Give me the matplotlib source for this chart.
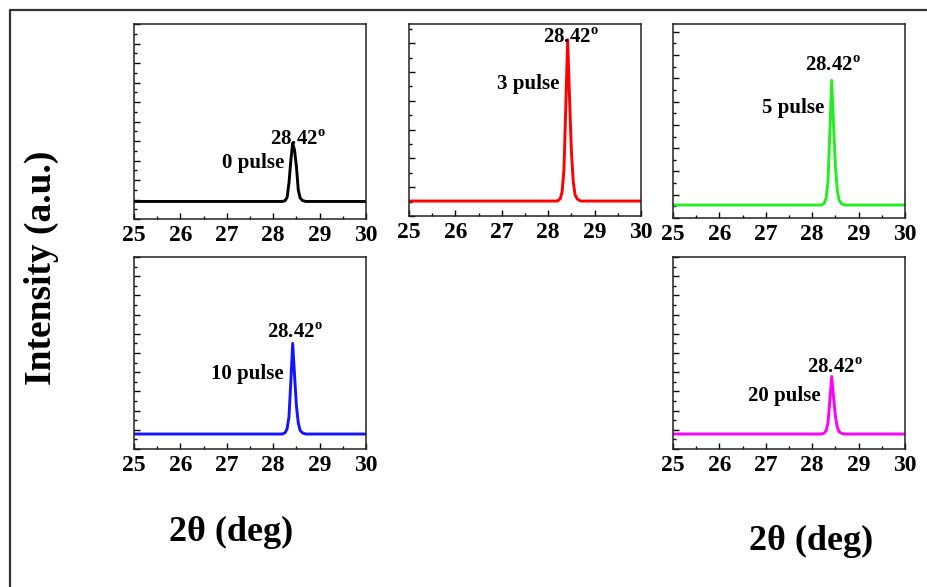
import matplotlib
matplotlib.use("Agg")
import matplotlib.pyplot as plt
from matplotlib.ticker import MultipleLocator, AutoMinorLocator
from matplotlib.lines import Line2D

plt.rcParams["font.family"] = ["Liberation Serif", "DejaVu Serif"]
plt.rcParams["font.weight"] = "bold"
plt.rcParams["mathtext.fontset"] = "custom"
plt.rcParams["mathtext.rm"] = "Liberation Serif"
plt.rcParams["mathtext.bf"] = "Liberation Serif:bold"

# 2-theta sample positions (deg) shared by every pattern
two_theta = [25.0, 28.20, 28.26, 28.30, 28.34, 28.38, 28.42, 28.46,
             28.50, 28.54, 28.58, 28.63, 28.70, 30.0]

# Normalised intensity (a.u.) for each pulse count
int_0 = [0.090, 0.090, 0.095, 0.112, 0.185, 0.300, 0.390, 0.352,
         0.270, 0.150, 0.108, 0.095, 0.090, 0.090]
int_3 = [0.078, 0.078, 0.090, 0.125, 0.240, 0.570, 0.918, 0.620,
         0.340, 0.180, 0.110, 0.088, 0.078, 0.078]
int_5 = [0.067, 0.067, 0.076, 0.102, 0.188, 0.440, 0.710, 0.482,
         0.268, 0.145, 0.092, 0.075, 0.067, 0.067]
int_10 = [0.078, 0.078, 0.086, 0.106, 0.168, 0.352, 0.550, 0.384,
          0.226, 0.136, 0.097, 0.084, 0.078, 0.078]
int_20 = [0.078, 0.078, 0.083, 0.096, 0.135, 0.252, 0.378, 0.272,
          0.172, 0.115, 0.090, 0.082, 0.078, 0.078]

pulse_labels = ["0 pulse", "3 pulse", "5 pulse", "10 pulse", "20 pulse"]
peak_label = r"28.42$^{\mathbf{o}}$"
x_ticks = [25, 26, 27, 28, 29, 30]

fig = plt.figure(figsize=(9.28, 5.87), dpi=100)

# panel: rect, data, colour, y tick step, (peak text x, y), (pulse text x, y)
panels = [
    ([0.1444, 0.6269, 0.25, 0.3322], int_0, "#000000", 0.10, (27.93, 0.379), (26.89, 0.260)),
    ([0.4407, 0.6320, 0.25, 0.3270], int_3, "#ff0000", 0.15, (27.89, 0.899), (26.89, 0.660)),
    ([0.7252, 0.6286, 0.25, 0.3305], int_5, "#22ee22", 0.12, (27.84, 0.758), (26.91, 0.540)),
    ([0.1444, 0.2351, 0.25, 0.3270], int_10, "#1414ff", 0.10, (27.86, 0.577), (26.65, 0.365)),
    ([0.7252, 0.2351, 0.25, 0.3270], int_20, "#ff00ff", 0.10, (27.88, 0.397), (26.62, 0.252)),
]

for (rect, ys, col, ystep, pk, pl), lab in zip(panels, pulse_labels):
    ax = fig.add_axes(rect)
    ax.plot(two_theta, ys, color=col, lw=2.1, solid_joinstyle="round")
    ax.set_xlim(25, 30)
    ax.set_ylim(0, 1)
    ax.set_xticks(x_ticks)
    ax.xaxis.set_minor_locator(AutoMinorLocator(2))
    ax.yaxis.set_major_locator(MultipleLocator(ystep))
    ax.yaxis.set_minor_locator(AutoMinorLocator(2))
    ax.tick_params(axis="both", which="both", direction="in",
                   top=False, right=False, labelleft=False)
    ax.tick_params(axis="x", which="major", length=4, width=1,
                   labelsize=17, pad=4)
    ax.tick_params(axis="x", which="minor", length=2, width=1)
    ax.tick_params(axis="y", which="major", length=4, width=1)
    ax.tick_params(axis="y", which="minor", length=2, width=1)
    for lbl in ax.get_xticklabels():
        lbl.set_fontweight("bold")
    for sp in ax.spines.values():
        sp.set_linewidth(1.1)
        sp.set_color("#222222")
    ax.text(pk[0], pk[1], peak_label, fontsize=15, fontweight="bold",
            ha="left", va="baseline")
    ax.text(pl[0], pl[1], lab, fontsize=15, fontweight="bold",
            ha="left", va="baseline")

# shared axis titles
W, H = 928, 587
fig.text(41 / W, 1 - 268 / H, "Intensity (a.u.)", rotation=90,
         fontsize=27, fontweight="bold", ha="center", va="center")
fig.text(231 / W, 1 - 532 / H, "2θ (deg)", fontsize=26,
         fontweight="bold", ha="center", va="center")
fig.text(811 / W, 1 - 541 / H, "2θ (deg)", fontsize=26,
         fontweight="bold", ha="center", va="center")

# outer frame around the figure
fig.add_artist(Line2D([10 / W, 10 / W, 1.01], [-0.01, 1 - 10 / H, 1 - 10 / H],
                      transform=fig.transFigure, color="#333333", lw=1.6))

fig.savefig("out.png", dpi=100, facecolor="white")
